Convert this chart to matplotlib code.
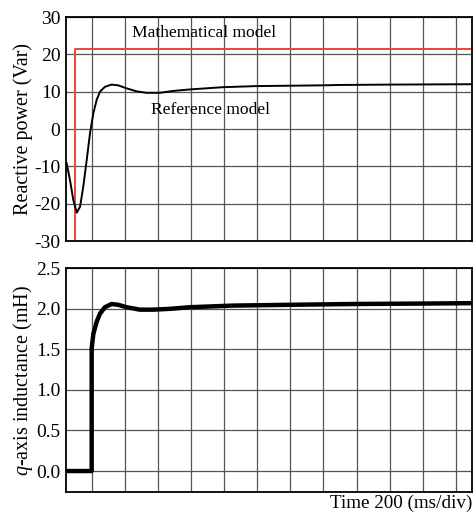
import numpy as np
import matplotlib.pyplot as plt

plt.rcParams['font.family'] = ['Liberation Serif', 'DejaVu Serif']
plt.rcParams['mathtext.fontset'] = 'custom'
plt.rcParams['mathtext.it'] = 'Liberation Serif:italic'
plt.rcParams['mathtext.rm'] = 'Liberation Serif'
plt.rcParams['axes.unicode_minus'] = False

# time axis in ms (200 ms per division)
t_q = [-151, -131, -111, -90, -70, -51, -30, -10, 10, 30, 50, 80, 120, 160,
       211, 271, 331, 411, 492, 592, 791, 994, 1195, 1393, 1496, 1800, 2291]
q_ref = [-9.2, -13.7, -19.0, -22.4, -20.8, -15.5, -8.3, -1.1, 4.2, 7.8, 10.0,
         11.3, 11.9, 11.7, 10.9, 10.1, 9.7, 9.7, 10.2, 10.6, 11.2, 11.5, 11.6,
         11.7, 11.8, 11.9, 12.0]

t_math = [-101, -101, 2291]
q_math = [-30, 21.5, 21.5]

t_l = [-155, 0, 0, 10, 30, 50, 80, 120, 160, 211, 291, 371, 471, 592, 853,
       1200, 1594, 2000, 2291]
l_q = [0.0, 0.0, 1.51, 1.69, 1.84, 1.94, 2.02, 2.06, 2.05, 2.02, 1.99, 1.99,
       2.0, 2.02, 2.04, 2.05, 2.06, 2.065, 2.07]

xlim = (-155, 2297)
grid_x = np.arange(0, 2201, 200)

fig = plt.figure(figsize=(4.77, 5.13), dpi=100)
ax1 = fig.add_axes([0.1384, 0.5302, 0.851, 0.4366])
ax2 = fig.add_axes([0.1384, 0.0415, 0.851, 0.4355])

for ax in (ax1, ax2):
    ax.set_xlim(*xlim)
    ax.set_xticks(grid_x)
    ax.set_xticklabels([])
    ax.grid(True, color='#555555', linewidth=0.9)
    ax.tick_params(length=0, labelsize=14, pad=4)
    for s in ax.spines.values():
        s.set_linewidth(1.3)
    ax.set_axisbelow(True)

ax1.plot(t_math, q_math, color='#e8463c', linewidth=1.4)
ax1.plot(t_q, q_ref, color='black', linewidth=1.4)
ax1.set_ylim(-30, 30)
ax1.set_yticks([-30, -20, -10, 0, 10, 20, 30])
ax1.set_ylabel('Reactive power (Var)', fontsize=14.5, labelpad=1)
ax1.text(241, 25.6, 'Mathematical model', fontsize=12.6, va='center')
ax1.text(361, 5.1, 'Reference model', fontsize=12.6, va='center')

ax2.plot(t_l, l_q, color='black', linewidth=3.2)
ax2.set_ylim(-0.255, 2.5)
ax2.set_yticks([0.0, 0.5, 1.0, 1.5, 2.0, 2.5])
ax2.set_yticklabels(['0.0', '0.5', '1.0', '1.5', '2.0', '2.5'])
ax2.set_ylabel('$q$-axis inductance (mH)', fontsize=14.5, labelpad=1)
fig.text(472 / 477, 1 - 503 / 513, 'Time 200 (ms/div)', fontsize=13.8,
         ha='right', va='center')

fig.savefig('out.png', dpi=100)
